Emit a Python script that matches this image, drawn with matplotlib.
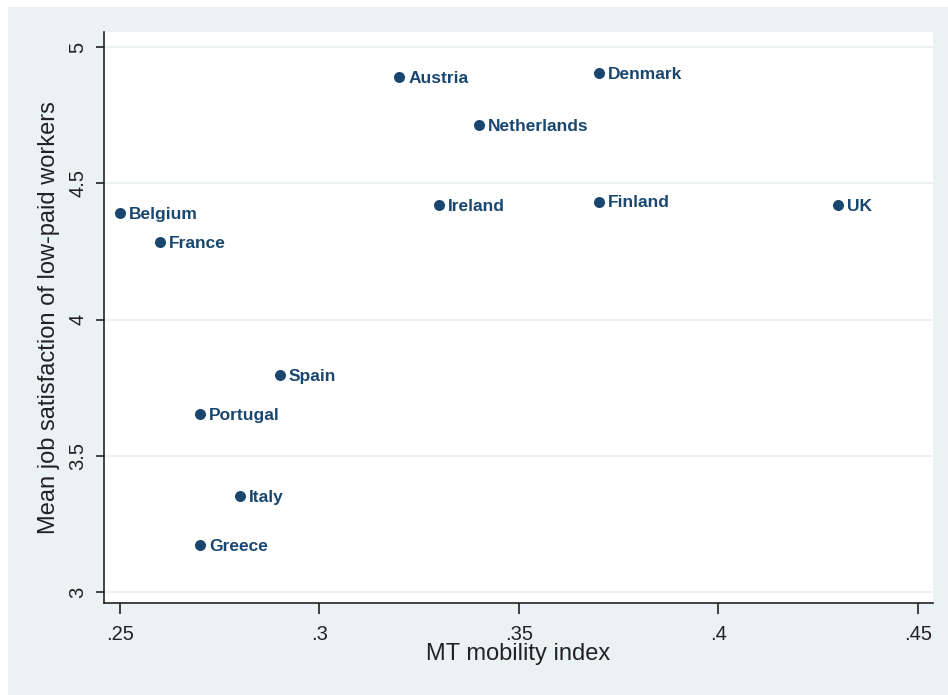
import matplotlib
matplotlib.use('Agg')
import matplotlib.pyplot as plt
from matplotlib.patches import Rectangle

# data
countries = ['Belgium', 'France', 'Austria', 'Denmark', 'Netherlands', 'Ireland',
             'Finland', 'UK', 'Spain', 'Portugal', 'Italy', 'Greece']
mobility = [0.25, 0.26, 0.32, 0.37, 0.34, 0.33, 0.37, 0.43, 0.29, 0.27, 0.28, 0.27]
satisfaction = [4.39, 4.285, 4.89, 4.905, 4.715, 4.42, 4.433, 4.42, 3.796, 3.652, 3.354, 3.173]

xticks = [0.25, 0.30, 0.35, 0.40, 0.45]
xtick_labels = ['.25', '.3', '.35', '.4', '.45']
yticks = [3, 3.5, 4, 4.5, 5]
ytick_labels = ['3', '3.5', '4', '4.5', '5']

navy = '#1a476f'
bg = '#eaf2f3'

plt.rcParams['font.family'] = ['Liberation Sans', 'DejaVu Sans']

fig = plt.figure(figsize=(9.48, 6.95), dpi=100, facecolor='white')
fig.patches.append(Rectangle((8 / 948, 0), 1, 1 - 7 / 695, transform=fig.transFigure,
                             facecolor=bg, edgecolor='none', zorder=-1))
ax = fig.add_axes([104 / 948, 1 - 603 / 695, (933 - 104) / 948, (603 - 32) / 695])
ax.set_facecolor('white')

ax.scatter(mobility, satisfaction, s=48, color=navy, zorder=3)
for name, x, y in zip(countries, mobility, satisfaction):
    ax.annotate(name, (x, y), xytext=(6.5, -1), textcoords='offset points',
                va='center', ha='left', fontsize=12.5, fontweight='bold',
                color=navy, zorder=4)

ax.set_xlim(0.246, 0.4538)
ax.set_ylim(2.96, 5.055)
ax.set_xticks(xticks)
ax.set_xticklabels(xtick_labels)
ax.set_yticks(yticks)
ax.set_yticklabels(ytick_labels, rotation=90, va='center')
ax.grid(axis='y', color=bg, linewidth=1.5, zorder=0)
ax.set_axisbelow(True)

for side in ['top', 'right']:
    ax.spines[side].set_visible(False)
for side in ['left', 'bottom']:
    ax.spines[side].set_linewidth(1.2)
    ax.spines[side].set_color('#222222')

ax.tick_params(axis='x', length=8, width=1.2, labelsize=14.5, pad=8, colors='#222222')
ax.tick_params(axis='y', length=6, width=1.2, labelsize=14.5, pad=6, colors='#222222')

ax.set_xlabel('MT mobility index', fontsize=17, labelpad=-1, color='#222222')
ax.set_ylabel('Mean job satisfaction of low-paid workers', fontsize=17, labelpad=6,
              color='#222222')

fig.savefig('out.png', dpi=100, facecolor='white')
